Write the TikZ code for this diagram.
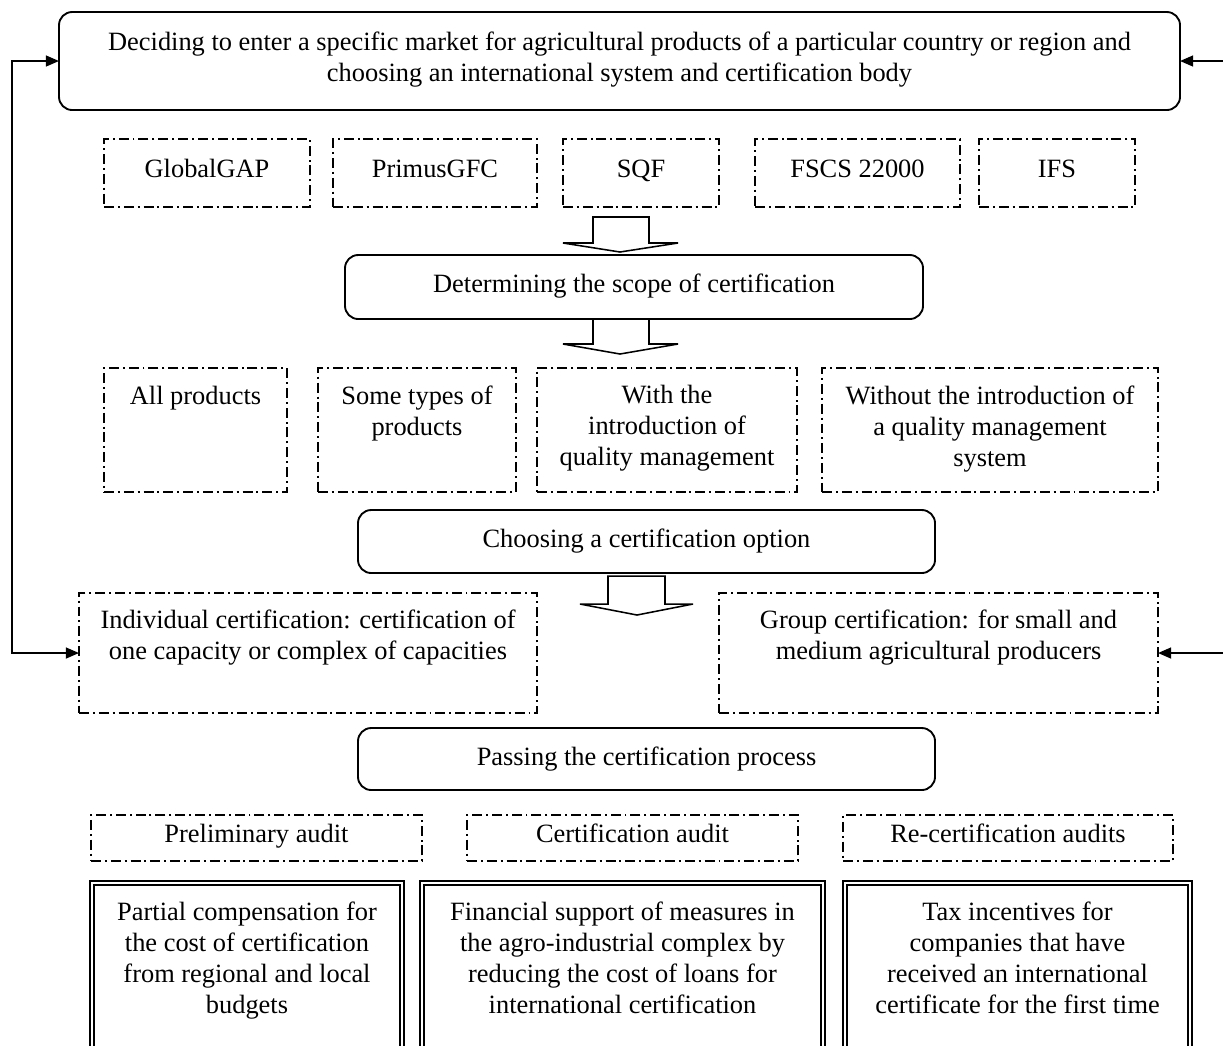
\documentclass[tikz,border=0pt]{standalone}
\usepackage{fontspec}
\setmainfont{Liberation Serif}
\usetikzlibrary{arrows.meta,calc}

% box from corner (x1,y1) to corner (x2,y2); #1 name, #2 style
\newcommand\mkbox[6]{%
  \node[#2, minimum width={(#5-#3)*0.4545pt}, minimum height={(#6-#4)*0.4545pt},
        inner sep=0pt, outer sep=0pt] (#1) at ({(#3+#5)/2},{(#4+#6)/2}) {};}

\begin{document}
\begin{tikzpicture}[x=0.4545pt, y=-0.4545pt,
  every node/.style={font=\fontsize{12}{14.1}\selectfont},
  txt/.style={inner sep=0pt, align=center, anchor=north, execute at begin node=\strut},
  rbox/.style={draw, line width=0.85pt, rounded corners=6pt},
  dbox/.style={draw, line width=0.55pt, dash pattern=on 4.5pt off 1.8pt on 0.9pt off 1.8pt},
  wbox/.style={draw, double, line width=0.5pt, double distance=1.3pt},
  link/.style={line width=0.75pt},
  tip/.style={-{Triangle[length=6pt,width=5pt]}},
  bitip/.style={{Triangle[length=6pt,width=5pt]}-{Triangle[length=6pt,width=5pt]}},
  barrow/.style={draw, line width=0.7pt, fill=white, line join=miter}
]
\useasboundingbox (0,0) rectangle (1223,1045);
\clip (0,0) rectangle (1223,1045);

% decision on the market
\mkbox{top}{rbox}{59}{12}{1180}{110}
\node[txt] (top-t) at ($(top.north)+(0,19)$) {Deciding to enter a specific market for agricultural products of a particular country or region and\\choosing an international system and certification body};

% certification systems
\mkbox{gap}{dbox}{104}{139}{310}{207}
\mkbox{pri}{dbox}{333}{139}{537}{207}
\mkbox{sqf}{dbox}{563}{139}{719}{207}
\mkbox{fscs}{dbox}{755}{139}{960}{207}
\mkbox{ifs}{dbox}{979}{139}{1135}{207}
\node[txt] (gap-t) at ($(gap.north)+(0,16)$) {GlobalGAP};
\node[txt] (pri-t) at ($(pri.north)+(0,16)$) {PrimusGFC};
\node[txt] (sqf-t) at ($(sqf.north)+(0,16)$) {SQF};
\node[txt] (fscs-t) at ($(fscs.north)+(0,16)$) {FSCS 22000};
\node[txt] (ifs-t) at ($(ifs.north)+(0,16)$) {IFS};

\draw[barrow] (593,217) -- (649,217) -- (649,243) -- (678,243) -- (620,252) -- (563,243) -- (593,243) -- cycle;

% scope of certification
\mkbox{det}{rbox}{345}{255}{923}{319}
\node[txt] (det-t) at ($(det.north)+(0,15)$) {Determining the scope of certification};

\draw[barrow] (593,319) -- (649,319) -- (649,344) -- (678,344) -- (620,354) -- (563,344) -- (593,344) -- cycle;

\mkbox{all}{dbox}{104}{368}{287}{492}
\mkbox{some}{dbox}{318}{368}{516}{492}
\mkbox{with}{dbox}{537}{368}{797}{492}
\mkbox{wout}{dbox}{822}{368}{1158}{492}
\node[txt] (all-t) at ($(all.north)+(0,14)$) {All products};
\node[txt] (some-t) at ($(some.north)+(0,17)$) {Some types of\\products};
\node[txt] (with-t) at ($(with.north)+(0,17)$) {With the\\introduction of\\quality management};
\node[txt] (wout-t) at ($(wout.north)+(0,17)$) {Without the introduction of\\a quality management\\system};

% certification option
\mkbox{cho}{rbox}{358}{510}{935}{573}
\node[txt] (cho-t) at ($(cho.north)+(0,15)$) {Choosing a certification option};

\draw[barrow] (608,576) -- (665,576) -- (665,604) -- (693,604) -- (637,615) -- (580,604) -- (608,604) -- cycle;

\mkbox{ind}{dbox}{79}{593}{537}{713}
\mkbox{grp}{dbox}{719}{593}{1158}{713}
\node[txt] (ind-t) at ($(ind.north)+(0,16)$) {Individual certification: certification of\\one capacity or complex of capacities};
\node[txt] (grp-t) at ($(grp.north)+(0,16)$) {Group certification: for small and\\medium agricultural producers};

% certification process
\mkbox{pas}{rbox}{358}{728}{935}{790}
\node[txt] (pas-t) at ($(pas.north)+(0,15)$) {Passing the certification process};

\mkbox{pre}{dbox}{91}{815}{422}{861}
\mkbox{cer}{dbox}{467}{815}{798}{861}
\mkbox{rec}{dbox}{843}{815}{1173}{861}
\node[txt] (pre-t) at ($(pre.north)+(0,5)$) {Preliminary audit};
\node[txt] (cer-t) at ($(cer.north)+(0,5)$) {Certification audit};
\node[txt] (rec-t) at ($(rec.north)+(0,5)$) {Re-certification audits};

% state support measures
\mkbox{par}{wbox}{92}{883}{402}{1070}
\mkbox{fin}{wbox}{422}{883}{823}{1070}
\mkbox{tax}{wbox}{845}{883}{1190}{1070}
\node[txt] (par-t) at ($(par.north)+(0,18)$) {Partial compensation for\\the cost of certification\\from regional and local\\budgets};
\node[txt] (fin-t) at ($(fin.north)+(0,18)$) {Financial support of measures in\\the agro-industrial complex by\\reducing the cost of loans for\\international certification};
\node[txt] (tax-t) at ($(tax.north)+(0,18)$) {Tax incentives for\\companies that have\\received an international\\certificate for the first time};

% feedback connectors
\coordinate (lb) at (12,653);
\draw[link, bitip] (top.west) -| (lb) -- (ind.west);
\coordinate (rt) at (1230,61);
\coordinate (rg) at (1230,653);
\draw[link, tip] (rt) -- (top.east);
\draw[link, tip] (rg) -- (grp.east);
\end{tikzpicture}
\end{document}
